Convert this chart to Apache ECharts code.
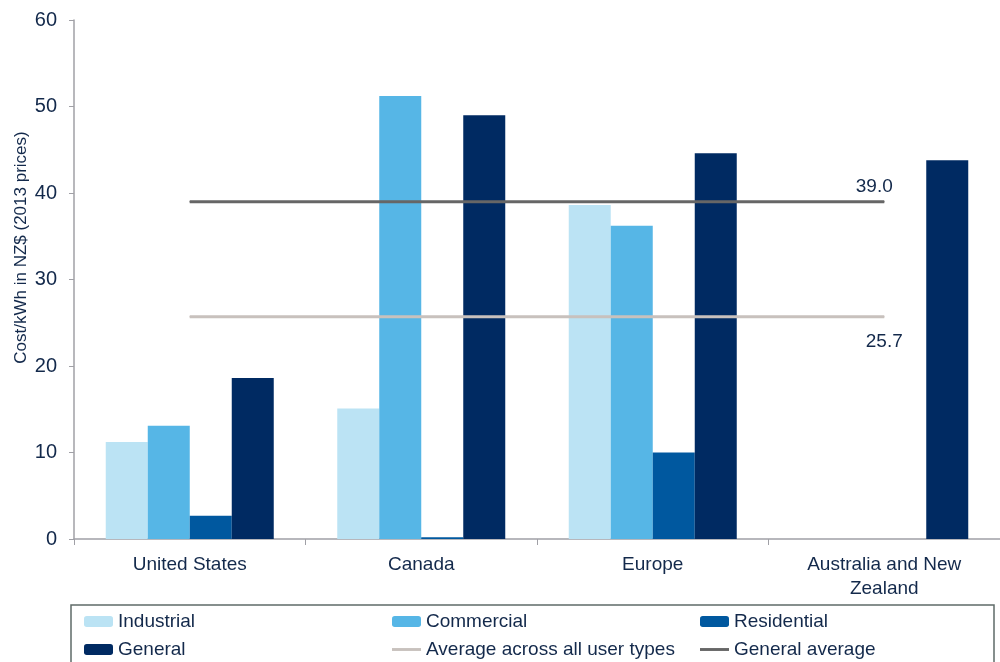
<!DOCTYPE html>
<html>
<head>
<meta charset="utf-8">
<title>Cost per kWh by region and user type</title>
<script src="https://cdn.jsdelivr.net/npm/echarts@6/dist/echarts.min.js"></script>
<style>
  html, body { margin: 0; padding: 0; background: #ffffff; }
  #chart { width: 1000px; height: 662px; }
</style>
</head>
<body>
<div id="chart"></div>
<script>
// Regions along the x axis
const regions = ['United States', 'Canada', 'Europe', 'Australia and New\nZealand'];

// Cost/kWh in NZ$ (2013 prices) per user type; '-' = no data
const industrial  = [11.2, 15.1, 38.6, '-'];
const commercial  = [13.1, 51.2, 36.2, '-'];
const residential = [2.7, 0.2, 10.0, '-'];
const general     = [18.6, 49.0, 44.6, 43.8];

// Reference averages drawn as flat lines across the regions
const averageAllTypes = 25.7;
const generalAverage = 39.0;

// Y axis scale
const yMin = 0, yMax = 60, yStep = 10;

const TEXT = '#13294b';
const FONT = "'Liberation Sans', Arial, sans-serif";
const LINE_ICON = 'path://M0,0L30,0L30,3L0,3Z';

const chart = echarts.init(document.getElementById('chart'));

// Flat line with its value printed once, at the last region
function flat(v, labelCfg) {
  return regions.map((_, i) => i === regions.length - 1
    ? { value: v, label: Object.assign({ show: true }, labelCfg) }
    : v);
}

function barSeries(name, data, color) {
  return {
    name, type: 'bar', data,
    barWidth: 42, barGap: '0%',
    itemStyle: { color },
    emphasis: { disabled: true }
  };
}

function avgSeries(name, value, color, pos, dist, offset) {
  return {
    name, type: 'line',
    data: flat(value, {
      position: pos, distance: dist, offset,
      color: TEXT, fontSize: 19, fontFamily: FONT,
      formatter: () => value.toFixed(1)
    }),
    symbol: 'circle', symbolSize: 1, showSymbol: true, z: 5,
    lineStyle: { color, width: 3 },
    itemStyle: { color },
    label: { show: false },
    emphasis: { disabled: true }
  };
}

function legendAt(name, left, top, icon, h) {
  const item = icon ? { name, icon } : { name };
  return {
    data: [item], left, top, padding: 0,
    itemWidth: 29, itemHeight: h || 11, selectedMode: false,
    textStyle: { color: TEXT, fontSize: 19, fontFamily: FONT }
  };
}

chart.setOption({
  animation: false,
  backgroundColor: '#ffffff',
  textStyle: { fontFamily: FONT },
  grid: { left: 74, top: 20, bottom: 123, width: 928 },
  xAxis: {
    type: 'category', data: regions,
    axisLine: { lineStyle: { color: '#a0a0a6', width: 1.5 } },
    axisTick: { show: true, length: 6, lineStyle: { color: '#a0a0a6' } },
    axisLabel: { color: TEXT, fontSize: 19, fontFamily: FONT, margin: 14, lineHeight: 24 }
  },
  yAxis: {
    type: 'value', min: yMin, max: yMax, interval: yStep,
    name: 'Cost/kWh in NZ$ (2013 prices)',
    nameLocation: 'middle', nameGap: 44, nameMoveOverlap: false,
    nameTextStyle: { color: TEXT, fontSize: 17, fontFamily: FONT, padding: [0, 0, 0, 64] },
    axisLine: { show: true, lineStyle: { color: '#a0a0a6', width: 1.5 } },
    axisTick: { show: true, length: 5, lineStyle: { color: '#a0a0a6' } },
    splitLine: { show: false },
    axisLabel: { color: TEXT, fontSize: 20, fontFamily: FONT, margin: 17 }
  },
  legend: [
    legendAt('Industrial', 84, 612),
    legendAt('Commercial', 392, 612),
    legendAt('Residential', 700, 612),
    legendAt('General', 84, 640),
    legendAt('Average across all user types', 392, 640, LINE_ICON, 3),
    legendAt('General average', 700, 640, LINE_ICON, 3)
  ],
  graphic: [{
    type: 'rect', silent: true,
    shape: { x: 71, y: 605, width: 923, height: 80 },
    style: { fill: 'none', stroke: '#5f6b68', lineWidth: 1.5 }
  }],
  series: [
    barSeries('Industrial', industrial, '#bbe3f4'),
    barSeries('Commercial', commercial, '#56b6e6'),
    barSeries('Residential', residential, '#00589f'),
    barSeries('General', general, '#002a62'),
    avgSeries('Average across all user types', averageAllTypes, '#c8c1bd', 'bottom', 15, [0, 0]),
    avgSeries('General average', generalAverage, '#666666', 'top', 5, [-10, 0])
  ]
});
</script>
</body>
</html>
